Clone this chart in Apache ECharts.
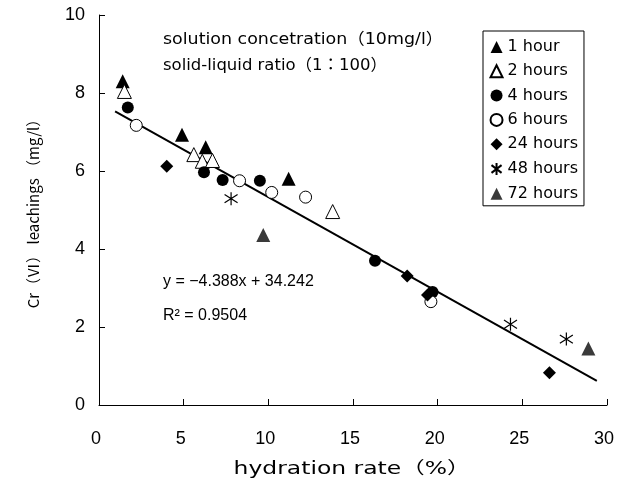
<!DOCTYPE html>
<html><head><meta charset="utf-8">
<script src="https://cdn.jsdelivr.net/npm/echarts@6/dist/echarts.min.js"></script>
<style>html,body{margin:0;padding:0;background:#fff}#c{width:622px;height:492px}</style>
</head><body><div id="c"></div>
<script>
const xTicks = [0, 5, 10, 15, 20, 25, 30];
const yTicks = [0, 2, 4, 6, 8, 10];
const seriesNames = ['1 hour', '2 hours', '4 hours', '6 hours', '24 hours', '48 hours', '72 hours'];
const hour1 = [[1.4, 8.3], [4.9, 6.93], [6.3, 6.61], [11.2, 5.8]];
const hour2 = [[1.5, 8.04], [5.6, 6.42], [6.1, 6.25], [6.7, 6.27], [13.8, 4.96]];
const hour4 = [[1.7, 7.63], [6.2, 5.97], [7.3, 5.77], [9.5, 5.75], [16.3, 3.7], [19.7, 2.9]];
const hour6 = [[2.2, 7.17], [8.3, 5.75], [10.2, 5.45], [12.2, 5.33], [19.6, 2.65]];
const hour24 = [[4.0, 6.12], [18.2, 3.31], [19.4, 2.82], [26.6, 0.83]];
const hour48 = [[7.8, 5.29], [24.3, 2.07], [27.6, 1.69]];
const hour72 = [[9.7, 4.36], [28.9, 1.45]];
const trendLine = [[0.95, 7.53], [29.4, 0.62]];
const xAxisName = 'hydration rate（%）';
const yAxisName = 'Cr（Ⅵ） leachings （mg/l）';
const noteLines = ['solution concetration（10mg/l）', 'solid-liquid ratio（1：100）'];
const eqText = 'y = −4.388x + 34.242';
const r2Text = 'R² = 0.9504';

const ASTER = 'path://M5,0L5,10M0.8,1.8L9.2,8.2M0.8,8.2L9.2,1.8';
const datasets = [hour1, hour2, hour4, hour6, hour24, hour48, hour72];
const styles = [
  {symbol: 'triangle', size: 14, item: {color: '#000'}},
  {symbol: 'triangle', size: 14, item: {color: '#fff', borderColor: '#000', borderWidth: 1}},
  {symbol: 'circle', size: 12, item: {color: '#000'}},
  {symbol: 'circle', size: 12, item: {color: '#fff', borderColor: '#000', borderWidth: 1}},
  {symbol: 'diamond', size: 13, item: {color: '#000'}},
  {symbol: ASTER, size: 13, item: {color: 'none', borderColor: '#000', borderWidth: 1.2}},
  {symbol: 'triangle', size: 14, item: {color: '#3a3a3a'}}
];
const series = datasets.map((d, i) => ({
  name: seriesNames[i], type: 'scatter', data: d,
  symbol: styles[i].symbol, symbolSize: styles[i].size,
  itemStyle: Object.assign({opacity: 1}, styles[i].item),
  emphasis: {disabled: true}, z: 3
}));
series.push({
  name: 'trend', type: 'line', data: trendLine, showSymbol: false, symbol: 'none',
  lineStyle: {color: '#000', width: 2}, z: 2, emphasis: {disabled: true}
});

const chart = echarts.init(document.getElementById('c'), null, {renderer: 'canvas'});
const TF = 'Liberation Sans, Arial, sans-serif';
const JF = 'Noto Sans CJK JP, sans-serif';
const DF = '"DejaVu Sans", "Noto Sans CJK JP", sans-serif';
chart.setOption({
  animation: false,
  backgroundColor: '#fff',
  grid: {left: 99, right: 15, top: 15, bottom: 87, containLabel: false},
  xAxis: {
    type: 'value', min: xTicks[0], max: xTicks[xTicks.length - 1], interval: 5,
    axisLine: {show: true, lineStyle: {color: '#000', width: 1}},
    axisTick: {show: true, inside: true, length: 6, lineStyle: {color: '#000'}},
    axisLabel: {fontSize: 18, color: '#000', fontFamily: TF, margin: 25, padding: [0, 6, 0, 0]},
    splitLine: {show: false}
  },
  yAxis: {
    type: 'value', min: yTicks[0], max: yTicks[yTicks.length - 1], interval: 2,
    name: yAxisName, nameLocation: 'middle', nameGap: 58,
    nameTextStyle: {fontSize: 15, color: '#000', fontFamily: JF},
    axisLine: {show: true, lineStyle: {color: '#000', width: 1}},
    axisTick: {show: true, inside: true, length: 6, lineStyle: {color: '#000'}},
    axisLabel: {fontSize: 18, color: '#000', fontFamily: TF, margin: 14},
    splitLine: {show: false}
  },
  legend: {
    data: seriesNames, orient: 'vertical', left: 483, top: 31,
    itemWidth: 12, itemHeight: 12, itemGap: 8.3,
    padding: [8, 6, 4, 6], borderColor: '#000', borderWidth: 1,
    textStyle: {fontSize: 16, color: '#000', fontFamily: DF},
    selectedMode: false
  },
  graphic: [
    {type: 'text', x: 352, y: 470, scaleX: 1.38, style: {text: xAxisName, x: 0, y: 0, align: 'center', verticalAlign: 'middle', fill: '#000', font: '17px ' + DF}},
    {type: 'text', x: 163, y: 40, scaleX: 1.09, style: {text: noteLines[0], x: 0, y: 0, align: 'left', verticalAlign: 'middle', fill: '#000', font: '16px ' + DF}},
    {type: 'text', x: 163, y: 66, scaleX: 1.03, style: {text: noteLines[1], x: 0, y: 0, align: 'left', verticalAlign: 'middle', fill: '#000', font: '16px ' + DF}},
    {type: 'text', left: 163, top: 274, style: {text: eqText, fill: '#000', font: '16px ' + TF}},
    {type: 'text', left: 163, top: 308, style: {text: r2Text, fill: '#000', font: '16px ' + TF}}
  ],
  series: series
});
</script></body></html>
